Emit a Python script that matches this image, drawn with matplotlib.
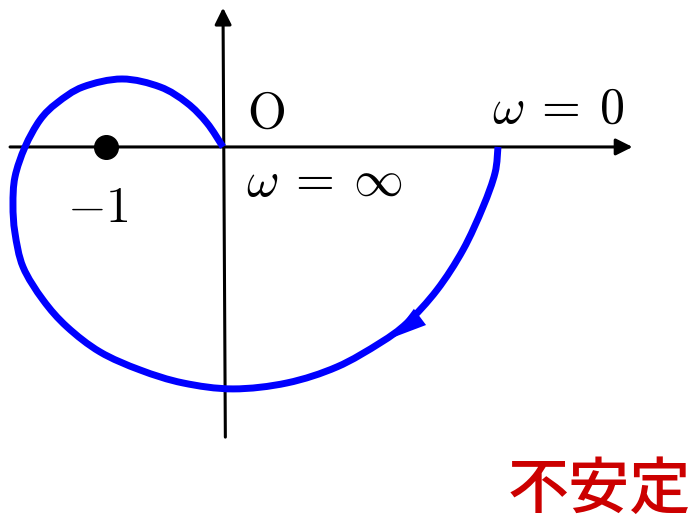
import matplotlib
matplotlib.use("Agg")
import matplotlib.pyplot as plt
import numpy as np
from matplotlib.path import Path
from matplotlib.patches import PathPatch

plt.rcParams['mathtext.fontset'] = 'cm'

# Nyquist locus (real, imaginary), from omega = 0 to omega = infinity
curve_re = [2.350, 2.325, 2.222, 2.051, 1.829, 1.573, 1.342, 0.974, 0.547, 0.085,
            -0.342, -0.709, -1.051, -1.333, -1.538, -1.709, -1.778, -1.795, -1.778,
            -1.692, -1.564, -1.419, -1.197, -0.863, -0.538, -0.308, -0.137, 0.0]
curve_im = [0.0, -0.222, -0.513, -0.880, -1.222, -1.504, -1.675, -1.880, -2.017, -2.068,
            -2.017, -1.906, -1.752, -1.538, -1.308, -1.026, -0.735, -0.496, -0.256,
            0.0, 0.231, 0.376, 0.513, 0.581, 0.513, 0.376, 0.205, 0.0]
critical_point = (-1.0, 0.0)

# axis extents
x_axis = (-1.82, 3.50)
y_axis = (-2.48, 1.19)

fig = plt.figure(figsize=(6.95, 5.21), dpi=100)
ax = fig.add_axes([0, 0, 1, 1])
ax.set_xlim(-1.906, 4.034)
ax.set_ylim(-3.197, 1.256)
ax.axis('off')

# axes with arrows
ax.annotate('', xy=(x_axis[1], 0), xytext=(x_axis[0], 0),
            arrowprops=dict(arrowstyle='-|>', color='black', lw=2.2,
                            mutation_scale=25, shrinkA=0, shrinkB=0))
ax.annotate('', xy=(0.0, y_axis[1]), xytext=(0.02, y_axis[0]),
            arrowprops=dict(arrowstyle='-|>', color='black', lw=2.2,
                            mutation_scale=25, shrinkA=0, shrinkB=0))

# Nyquist curve drawn as a smooth Bezier path through the read points
pts = np.column_stack([curve_re, curve_im])
n = len(pts)
verts = [pts[0]]
codes = [Path.MOVETO]
for i in range(n - 1):
    p0 = pts[max(i - 1, 0)]
    p1 = pts[i]
    p2 = pts[i + 1]
    p3 = pts[min(i + 2, n - 1)]
    verts += [p1 + (p2 - p0) / 6.0, p2 - (p3 - p1) / 6.0, p2]
    codes += [Path.CURVE4] * 3
ax.add_patch(PathPatch(Path(verts, codes), facecolor='none', edgecolor='#0000ff',
                       lw=5, capstyle='butt', joinstyle='round', zorder=3))

# direction arrow
ax.annotate('', xy=(1.444, -1.632), xytext=(1.615, -1.504),
            arrowprops=dict(arrowstyle='-|>,head_length=0.9,head_width=0.26',
                            color='#0000ff', lw=0,
                            mutation_scale=28, shrinkA=0, shrinkB=0), zorder=4)

# critical point
ax.plot([critical_point[0]], [critical_point[1]], 'o', color='black',
        markersize=17, zorder=5)

fs = 36
ax.text(0.205, 0.165, r'$\mathrm{O}$', fontsize=fs, ha='left', va='baseline')
ax.text(2.30, 0.205, r'$\omega\:=\:0$', fontsize=fs, ha='left', va='baseline')
ax.text(0.20, -0.42, r'$\omega\:=\:\infty$', fontsize=fs, ha='left', va='baseline')
ax.text(-1.33, -0.64, r'$-1$', fontsize=fs, ha='left', va='baseline')

ax.text(2.43, -3.085, '不安定', fontsize=44, color='#cc0000', fontweight='medium',
        family=['Noto Sans CJK JP', 'DejaVu Sans'], ha='left', va='baseline')

fig.savefig('out.png', dpi=100)
